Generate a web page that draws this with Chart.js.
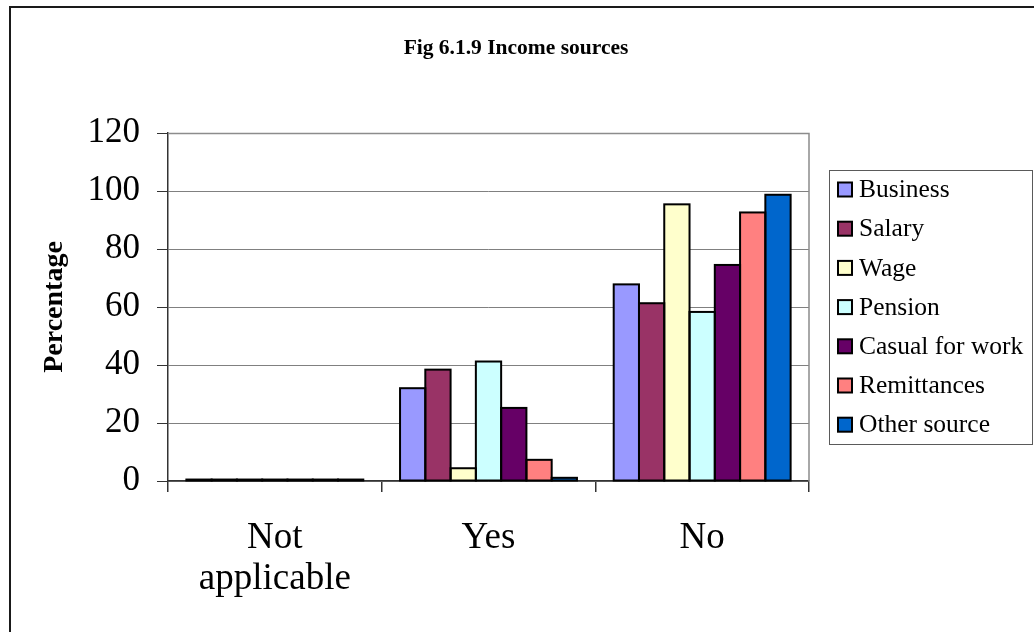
<!DOCTYPE html>
<html>
<head>
<meta charset="utf-8">
<title>Income sources</title>
<script src="https://cdn.jsdelivr.net/npm/chart.js@4.4.1/dist/chart.umd.min.js"></script>
<style>
  html, body { margin: 0; padding: 0; background: #ffffff; }
  #wrap { width: 1034px; height: 632px; }
</style>
</head>
<body>
<div id="wrap"><canvas id="chart" width="1034" height="632"></canvas></div>
<script>
// Response categories on the x axis (multi-line labels are arrays)
const categories = [["Not", "applicable"], "Yes", "No"];

// Percentage of households per income source, by response
const business     = [0.5, 32.0, 67.8];
const salary       = [0.5, 38.4, 61.3];
const wage         = [0.5, 4.4, 95.4];
const pension      = [0.5, 41.2, 58.3];
const casualWork   = [0.5, 25.2, 74.5];
const remittances  = [0.5, 7.3, 92.6];
const otherSource  = [0.5, 1.1, 98.7];

const seriesNames  = ["Business", "Salary", "Wage", "Pension", "Casual for work", "Remittances", "Other source"];
const seriesValues = [business, salary, wage, pension, casualWork, remittances, otherSource];
const seriesColors = ["#9999FF", "#993366", "#FFFFCC", "#CCFFFF", "#660066", "#FF8080", "#0066CC"];

const yTicks = [0, 20, 40, 60, 80, 100, 120];
const chartTitle = "Fig 6.1.9 Income sources";
const yTitle = "Percentage";

const SERIF = "'Liberation Serif', 'Times New Roman', serif";

// White page, dark frame round the figure, and the centred heading
const frame = {
  id: 'frame',
  beforeDraw(chart) {
    const c = chart.ctx;
    c.save();
    c.fillStyle = '#ffffff';
    c.fillRect(0, 0, chart.width, chart.height);
    c.strokeStyle = '#1a1a1a';
    c.lineWidth = 2;
    c.strokeRect(10, 7, chart.width + 20, chart.height + 20);
    c.fillStyle = '#000000';
    c.font = "bold 21.5px " + SERIF;
    c.textAlign = 'center';
    c.textBaseline = 'middle';
    c.fillText(chartTitle, 516, 48);
    c.restore();
  },
  beforeDatasetsDraw(chart) {
    const a = chart.chartArea;
    const c = chart.ctx;
    c.save();
    c.strokeStyle = '#8c8c8c';
    c.lineWidth = 1.5;
    c.beginPath();
    c.moveTo(a.left, a.top + 0.5);
    c.lineTo(a.right, a.top + 0.5);
    c.lineTo(a.right, a.bottom);
    c.stroke();
    c.restore();
  }
};

// Black outline round each bar, kept visible even for near-zero bars
const barOutline = {
  id: 'barOutline',
  afterDatasetsDraw(chart) {
    const c = chart.ctx;
    c.save();
    c.strokeStyle = '#000000';
    c.lineWidth = 2;
    chart.data.datasets.forEach((ds, i) => {
      chart.getDatasetMeta(i).data.forEach(bar => {
        const p = bar.getProps(['x', 'y', 'base', 'width'], true);
        const top = Math.min(p.y, p.base);
        const h = Math.abs(p.base - p.y);
        c.strokeRect(p.x - p.width / 2, top, p.width, h);
      });
    });
    c.restore();
  }
};

// Boxed legend to the right of the plot
const boxLegend = {
  id: 'boxLegend',
  afterDraw(chart) {
    const c = chart.ctx;
    const left = 829, top = 170, right = 1032, bottom = 444;
    const firstY = 189.5, step = 39.2;
    c.save();
    c.strokeStyle = '#5a5a5a';
    c.lineWidth = 1;
    c.strokeRect(left + 0.5, top + 0.5, right - left, bottom - top);
    c.font = "25.5px " + SERIF;
    c.textBaseline = 'middle';
    c.textAlign = 'left';
    chart.data.datasets.forEach((ds, i) => {
      const cy = firstY + i * step;
      c.fillStyle = ds.backgroundColor;
      c.fillRect(838, cy - 7, 14, 14);
      c.strokeStyle = '#000000';
      c.lineWidth = 2;
      c.strokeRect(838, cy - 7, 14, 14);
      c.fillStyle = '#000000';
      c.fillText(ds.label, 859, cy + 1);
    });
    c.restore();
  }
};

const datasets = seriesNames.map((name, i) => ({
  label: name,
  data: seriesValues[i],
  backgroundColor: seriesColors[i],
  borderWidth: 0,
  categoryPercentage: 0.828,
  barPercentage: 1.0
}));

new Chart(document.getElementById('chart'), {
  type: 'bar',
  data: { labels: categories, datasets },
  plugins: [frame, barOutline, boxLegend],
  options: {
    responsive: false,
    animation: false,
    devicePixelRatio: 1,
    layout: { padding: { left: 0, right: 225, top: 133, bottom: 0 } },
    plugins: {
      legend: { display: false },
      tooltip: { enabled: false },
      title: { display: false }
    },
    scales: {
      x: {
        offset: true,
        afterFit(scale) { scale.height = 151; },
        grid: {
          offset: true,
          drawOnChartArea: false,
          drawTicks: true,
          tickLength: 11,
          tickColor: '#333333',
          lineWidth: 1.5
        },
        border: { display: true, color: '#333333', width: 1.5 },
        ticks: {
          color: '#000000',
          padding: 26,
          maxRotation: 0,
          autoSkip: false,
          font: { family: SERIF, size: 37, lineHeight: 1.11 }
        }
      },
      y: {
        min: 0,
        max: 120,
        afterFit(scale) { scale.width = 168; },
        afterBuildTicks(scale) { scale.ticks = yTicks.map(v => ({ value: v })); },
        grid: {
          color: '#808080',
          lineWidth: 1,
          drawTicks: true,
          tickLength: 11,
          tickColor: '#333333'
        },
        border: { display: true, color: '#333333', width: 1.5 },
        ticks: {
          color: '#000000',
          padding: 17,
          font: { family: SERIF, size: 35 }
        },
        title: {
          display: true,
          text: yTitle,
          color: '#000000',
          font: { family: SERIF, size: 28, weight: 'bold', lineHeight: 1.2 },
          padding: { top: 38, bottom: 0 }
        }
      }
    }
  }
});
</script>
</body>
</html>
